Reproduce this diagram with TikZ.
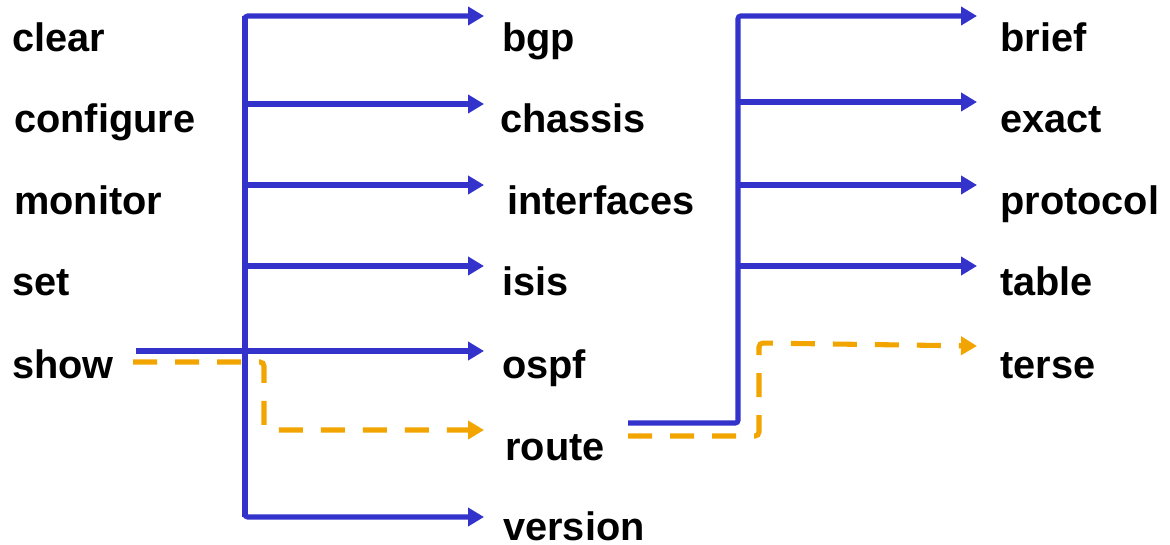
\documentclass[tikz,border=0pt]{standalone}
\usepackage{fontspec}
\setmainfont{Liberation Sans}
\usetikzlibrary{arrows.meta}
\definecolor{cblue}{HTML}{3333CC}
\definecolor{corange}{HTML}{F2A400}
\begin{document}
\begin{tikzpicture}[x=0.75pt,y=-0.75pt,
  lbl/.style={anchor=base west,inner sep=0pt,font=\fontsize{29.8pt}{33pt}\selectfont\bfseries},
  bl/.style={draw=cblue,line width=3.8pt,rounded corners=2pt},
  bla/.style={bl,-{Triangle[length=12pt,width=13.5pt]}},
  og/.style={draw=corange,line width=3.8pt,dash pattern=on 18pt off 13.5pt,rounded corners=3pt},
  oga/.style={og,-{Triangle[length=12pt,width=13.5pt]}}]
\useasboundingbox (0,0) rectangle (1170,545);
% left column
\node[lbl] (clear) at (12,52) {clear};
\node[lbl] (configure) at (14,133) {configure};
\node[lbl] (monitor) at (14,215) {monitor};
\node[lbl] (set) at (12,296) {set};
\node[lbl] (show) at (12,378) {show};
% middle column
\node[lbl] (bgp) at (502,52) {bgp};
\node[lbl] (chassis) at (500,133) {chassis};
\node[lbl] (interfaces) at (507,215) {interfaces};
\node[lbl] (isis) at (502,296) {isis};
\node[lbl] (ospf) at (502,378) {ospf};
\node[lbl] (route) at (505,460) {route};
\node[lbl] (version) at (503,540) {version};
% right column
\node[lbl] (brief) at (1000,52) {brief};
\node[lbl] (exact) at (1000,133) {exact};
\node[lbl] (protocol) at (1000,215) {protocol};
\node[lbl] (table) at (1000,296) {table};
\node[lbl] (terse) at (1000,378) {terse};
% connector end points
\coordinate (sShow) at (136,351);
\coordinate (oShow) at (133,362);
\coordinate (sRoute) at (628,423);
\coordinate (oRoute) at (628,436);
\coordinate (eBgp) at (484,16);
\coordinate (eChassis) at (484,104);
\coordinate (eInterfaces) at (484,185);
\coordinate (eIsis) at (484,266);
\coordinate (eOspf) at (484,351);
\coordinate (eRoute) at (484,430);
\coordinate (eVersion) at (484,517);
\coordinate (eBrief) at (977,16);
\coordinate (eExact) at (977,102);
\coordinate (eProtocol) at (977,185);
\coordinate (eTable) at (977,266);
\coordinate (eTerse) at (977,346);
% first tree
\draw[bl] (245,185) -- (245,16);
\draw[bla] (245,100) |- (eBgp);
\draw[bla] (245,104) -- (eChassis);
\draw[bla] (245,185) -- (eInterfaces);
\draw[bla] (245,266) -- (eIsis);
\draw[bl] (245,100) -- (245,517);
\draw[bla] (245,400) |- (eVersion);
\draw[bla] (sShow) -- (eOspf);
% orange path from show
\draw[oga] (oShow) -- (264,362) -- (264,430) -- (eRoute);
% second tree
\draw[bla] (738,100) |- (eBrief);
\draw[bla] (738,102) -- (eExact);
\draw[bla] (738,185) -- (eProtocol);
\draw[bla] (738,266) -- (eTable);
\draw[bl] (sRoute) -- (738,423) -- (738,100);
\draw[oga] (oRoute) -- (759,436) -- (759,343) -- (eTerse);
\end{tikzpicture}
\end{document}
